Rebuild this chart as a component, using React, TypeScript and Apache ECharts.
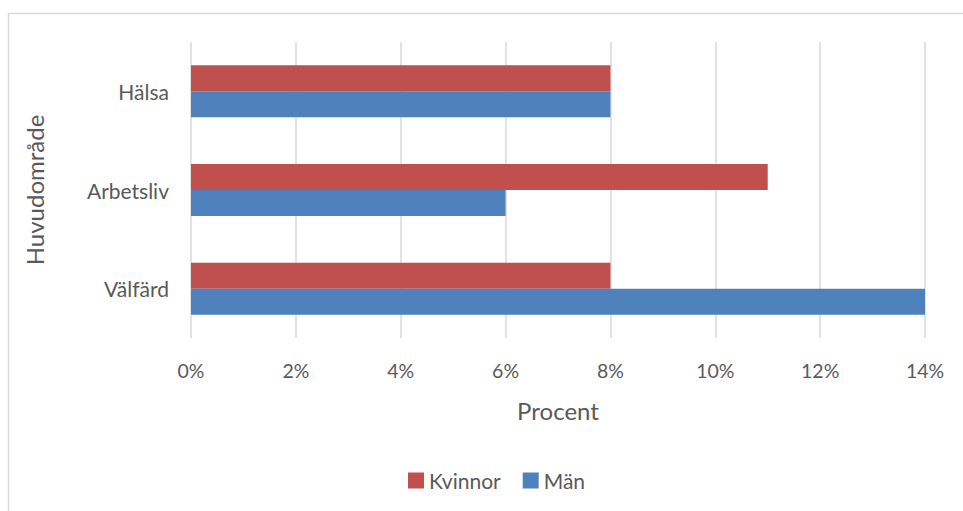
import React, { useEffect, useRef } from "react";
import * as echarts from "echarts";

const categories = ["Välfärd", "Arbetsliv", "Hälsa"];
const kvinnor = [8, 11, 8];
const man = [14, 6, 8];
const seriesNames = ["Kvinnor", "Män"];

const FONT = "Lato, 'Open Sans', sans-serif";
const TEXT = "#595959";

export default function App() {
  const ref = useRef<HTMLDivElement>(null);
  useEffect(() => {
    if (!ref.current) return;
    const chart = echarts.init(ref.current, null, { renderer: "svg" });
    chart.setOption({
      animation: false,
      backgroundColor: "#ffffff",
      textStyle: { fontFamily: FONT },
      graphic: [
        {
          type: "rect",
          shape: { x: 8.5, y: 13.5, width: 1000, height: 600 },
          style: { fill: "none", stroke: "#D9D9D9", lineWidth: 1.5 },
          silent: true,
        },
      ],
      grid: { left: 191, right: 38, top: 42, bottom: 173, containLabel: false },
      legend: {
        data: seriesNames,
        top: 465,
        left: 403,
        itemWidth: 16,
        itemHeight: 16,
        itemGap: 22,
        icon: "rect",
        textStyle: { fontSize: 21, color: TEXT, fontFamily: FONT },
      },
      xAxis: {
        type: "value",
        min: 0,
        max: 14,
        interval: 2,
        name: "Procent",
        nameLocation: "middle",
        nameGap: 60,
        nameTextStyle: { fontSize: 24, color: TEXT, fontFamily: FONT },
        axisLine: { show: false },
        axisTick: { show: false },
        axisLabel: {
          formatter: "{value}%",
          fontSize: 19.5,
          color: TEXT,
          margin: 22,
          fontFamily: FONT,
        },
        splitLine: { show: true, lineStyle: { color: "#D9D9D9", width: 1.5 } },
      },
      yAxis: {
        type: "category",
        data: categories,
        name: "Huvudområde",
        nameLocation: "middle",
        nameRotate: 90,
        nameGap: 145,
        nameTextStyle: { fontSize: 24, color: TEXT, fontFamily: FONT },
        axisLine: { show: false },
        axisTick: { show: false },
        axisLabel: { fontSize: 21, color: TEXT, margin: 22, fontFamily: FONT },
        splitLine: { show: false },
      },
      series: [
        {
          name: seriesNames[0],
          type: "bar",
          data: kvinnor,
          barWidth: 26,
          barGap: "0%",
          itemStyle: { color: "#C0504D" },
        },
        {
          name: seriesNames[1],
          type: "bar",
          data: man,
          barWidth: 26,
          barGap: "0%",
          itemStyle: { color: "#4F81BD" },
        },
      ],
    });
    return () => chart.dispose();
  }, []);
  return (
    <div
      ref={ref}
      style={{ position: "fixed", left: 0, top: 0, width: 963, height: 511 }}
    />
  );
}
